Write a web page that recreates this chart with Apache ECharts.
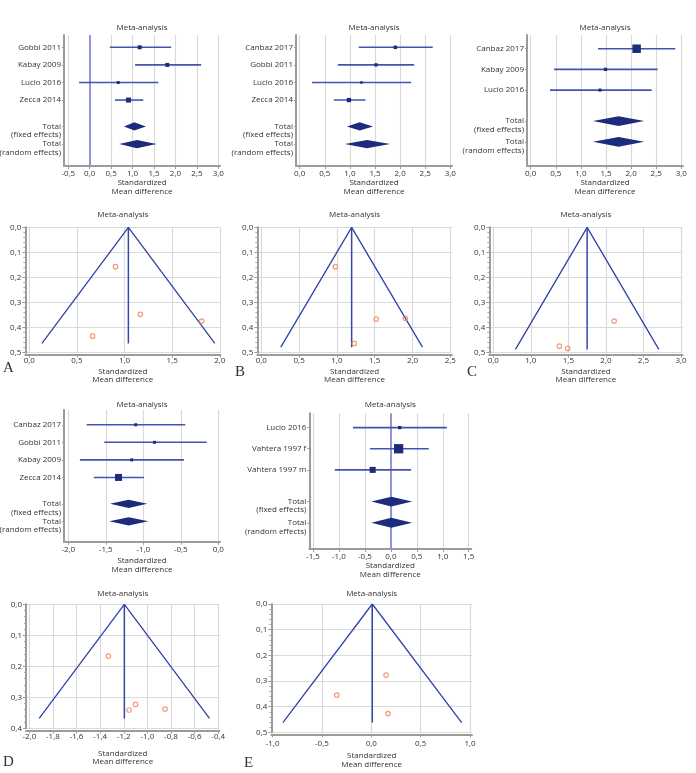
<!DOCTYPE html>
<html><head><meta charset="utf-8">
<script src="https://cdn.jsdelivr.net/npm/echarts@6/dist/echarts.min.js"></script>
<style>html,body{margin:0;padding:0;background:#fff}#c{width:696px;height:773px}</style>
</head><body><div id="c"></div>
<script>
// ================= DATA =================
// Panel A
const studiesA = ['Gobbi 2011','Kabay 2009','Lucio 2016','Zecca 2014'];
const smdA  = [1.165, 1.81, 0.665, 0.905];
const lowA  = [0.47, 1.06, -0.25, 0.59];
const highA = [1.90, 2.60, 1.60, 1.25];
const seA   = [0.347, 0.374, 0.434, 0.157];
const weightA = [4, 4, 3, 5];
const fixedA  = [0.80, 1.04, 1.31];
const randomA = [0.69, 1.10, 1.56];
const seMaxA = 0.463;
// Panel B
const studiesB = ['Canbaz 2017','Gobbi 2011','Lucio 2016','Zecca 2014'];
const smdB  = [1.905, 1.52, 1.23, 0.98];
const lowB  = [1.175, 0.76, 0.245, 0.68];
const highB = [2.65, 2.28, 2.22, 1.31];
const seB   = [0.363, 0.366, 0.463, 0.157];
const weightB = [3.5, 3.3, 2.5, 4.3];
const fixedB  = [0.94, 1.195, 1.46];
const randomB = [0.90, 1.34, 1.80];
const seMaxB = 0.478;
// Panel C
const studiesC = ['Canbaz 2017','Kabay 2009','Lucio 2016'];
const smdC  = [2.11, 1.49, 1.38];
const lowC  = [1.34, 0.465, 0.385];
const highC = [2.88, 2.53, 2.41];
const seC   = [0.374, 0.483, 0.474];
const weightC = [8.5, 3.3, 3];
const fixedC  = [1.24, 1.75, 2.26];
const randomC = [1.24, 1.75, 2.26];
const seMaxC = 0.487;
// Panel D
const studiesD = ['Canbaz 2017','Gobbi 2011','Kabay 2009','Zecca 2014'];
const smdD  = [-1.10, -0.85, -1.155, -1.33];
const lowD  = [-1.755, -1.52, -1.845, -1.66];
const highD = [-0.44, -0.155, -0.457, -0.99];
const seD   = [0.323, 0.338, 0.341, 0.167];
const weightD = [3, 3, 3, 7];
const fixedD  = [-1.444, -1.195, -0.947];
const randomD = [-1.453, -1.195, -0.933];
const seMaxD = 0.368;
// Panel E
const studiesE = ['Lucio 2016','Vahtera 1997 f','Vahtera 1997 m'];
const smdE  = [0.17, 0.15, -0.35];
const lowE  = [-0.73, -0.40, -1.08];
const highE = [1.08, 0.73, 0.39];
const seE   = [0.427, 0.277, 0.355];
const weightE = [3.3, 9.3, 6];
const fixedE  = [-0.376, 0.01, 0.41];
const randomE = [-0.376, 0.01, 0.41];
const seMaxE = 0.462;

// tick values / labels
const ticksForestA = [-0.5,0,0.5,1,1.5,2,2.5,3];
const ticksForestBC = [0,0.5,1,1.5,2,2.5,3];
const ticksForestD = [-2,-1.5,-1,-0.5,0];
const ticksForestE = [-1.5,-1,-0.5,0,0.5,1,1.5];
const ticksFunnelA = [0,0.5,1,1.5,2];
const ticksFunnelB = [0,0.5,1,1.5,2,2.5];
const ticksFunnelC = [0.5,1,1.5,2,2.5,3];
const labelsFunnelC = ['0,0','1,0','1,5','2,0','2,5','3,0'];
const ticksFunnelD = [-2,-1.8,-1.6,-1.4,-1.2,-1,-0.8,-0.6,-0.4];
const ticksFunnelE = [-1,-0.5,0,0.5,1];
const panelTitle = 'Meta-analysis';
const axisName = 'Standardized\nMean difference';
const totalLabel = 'Total';
const fixedSub = '(fixed effects)';
const randomSub = '(random effects)';

// ================= STYLE / BUILD =================
const FONT = 'Open Sans';
const TXT = '#333';
const AXIS = {show:true, onZero:false, lineStyle:{color:'#9b9b9b', width:2}};
const GRIDLINE = {show:true, lineStyle:{color:'#dadada', width:1.2}};
const CI_COLOR = '#4253b2';
const NAVY = '#1d2b7d';
const LBL = {fontSize:8, fontFamily:FONT, color:TXT, showMinLabel:true, showMaxLabel:true, hideOverlap:false};
function fmt(v){ return (Math.round(v*10)/10).toFixed(1).replace('.',','); }

const option = {animation:false, backgroundColor:'#fff', grid:[], xAxis:[], yAxis:[], series:[], graphic:[]};

function addGrid(p){
  option.grid.push({left:p.left, top:p.top, width:p.width, height:p.height, containLabel:false, outerBoundsMode:'none'});
  return option.grid.length - 1;
}
function addText(x, y, text, size, family, align){
  option.graphic.push({type:'text', x:x, y:y, silent:true,
    style:{text:text, fontSize:size, fontFamily:family||FONT, fill:TXT, textAlign:align||'center', verticalAlign:'middle', textVerticalAlign:'middle'}});
}

function addForest(p){
  const g = addGrid(p);
  const xi = option.xAxis.length, yi = option.yAxis.length;
  const n = p.studies.length;
  const rows = p.studies.map((_, k) => k + 1);
  const rF = n + 1.5, rR = n + 2.5;
  const d = 8.5 * (p.yMax - p.yMin) / p.height; // one text line in row units
  const map = {};
  rows.forEach((r, k) => map[r] = p.studies[k]);
  map[rF] = totalLabel; map[rR] = totalLabel;
  const sub = {};
  sub[rF + d] = fixedSub; sub[rR + d] = randomSub;
  const yVals = rows.concat([rF, rR]);
  const subVals = [rF + d, rR + d];
  option.xAxis.push({type:'value', gridIndex:g, min:p.xMin, max:p.xMax,
    axisLine:AXIS,
    axisTick:{show:true, length:3, customValues:p.ticks, lineStyle:{color:'#9b9b9b'}},
    axisLabel:Object.assign({customValues:p.ticks, formatter:fmt, margin:4}, LBL),
    splitLine:GRIDLINE,
    name:axisName, nameLocation:'middle', nameGap:p.nameGap,
    nameTextStyle:{fontSize:8, fontFamily:FONT, color:TXT, lineHeight:8.5}});
  option.yAxis.push({type:'value', gridIndex:g, position:'left', inverse:true, min:p.yMin, max:p.yMax,
    axisLine:AXIS,
    axisTick:{show:true, length:2, customValues:yVals, lineStyle:{color:'#9b9b9b'}},
    axisLabel:Object.assign({customValues:yVals, formatter:v => map[v] || '', margin:3}, LBL),
    splitLine:{show:false}});
  option.yAxis.push({type:'value', gridIndex:g, position:'left', inverse:true, min:p.yMin, max:p.yMax,
    axisLine:{show:false}, axisTick:{show:false}, splitLine:{show:false},
    axisLabel:Object.assign({customValues:subVals, formatter:v => {
      const k = subVals.findIndex(t => Math.abs(t - v) < 1e-6);
      return k === 0 ? fixedSub : (k === 1 ? randomSub : '');
    }, margin:3}, LBL)});
  const s = {type:'custom', xAxisIndex:xi, yAxisIndex:yi, silent:true, clip:false, z:3,
    data: rows.map((r, k) => [p.low[k], p.high[k], p.smd[k], r, p.weight[k]]),
    encode:{x:[0,1,2], y:3},
    renderItem:function(params, api){
      const a = api.coord([api.value(0), api.value(3)]);
      const b = api.coord([api.value(1), api.value(3)]);
      const c = api.coord([api.value(2), api.value(3)]);
      const sz = api.value(4);
      return {type:'group', children:[
        {type:'line', shape:{x1:a[0], y1:a[1], x2:b[0], y2:b[1]}, style:{stroke:CI_COLOR, lineWidth:1.6}},
        {type:'rect', shape:{x:c[0]-sz/2, y:c[1]-sz/2, width:sz, height:sz}, style:{fill:NAVY}}
      ]};
    }};
  if (p.zero) {
    s.markLine = {silent:true, symbol:'none', label:{show:false}, z:2,
      lineStyle:{color:'#8e96d4', width:2, type:'solid'}, data:[{xAxis:0}]};
  }
  option.series.push(s);
  option.series.push({type:'custom', xAxisIndex:xi, yAxisIndex:yi, silent:true, clip:false, z:4,
    data:[p.fixed.concat([rF]), p.random.concat([rR])],
    encode:{x:[0,1,2], y:3},
    renderItem:function(params, api){
      const r = api.value(3), h = 0.235;
      const l = api.coord([api.value(0), r]);
      const t = api.coord([api.value(1), r - h]);
      const rr = api.coord([api.value(2), r]);
      const b = api.coord([api.value(1), r + h]);
      return {type:'polygon', shape:{points:[l, t, rr, b]}, style:{fill:NAVY}};
    }});
  addText(p.left + p.width/2, p.titleY, panelTitle, 8);
}

function addFunnel(p){
  const g = addGrid(p);
  const xi = option.xAxis.length, yi = option.yAxis.length;
  const labelFor = v => {
    if (p.labels) {
      const k = p.ticks.findIndex(t => Math.abs(t - v) < 1e-6);
      return k >= 0 ? p.labels[k] : '';
    }
    return fmt(v);
  };
  option.xAxis.push({type:'value', gridIndex:g, min:p.xMin, max:p.xMax, offset:p.xOffset,
    axisLine:AXIS,
    axisTick:{show:true, length:3, customValues:p.ticks, lineStyle:{color:'#9b9b9b'}},
    axisLabel:Object.assign({customValues:p.ticks, formatter:labelFor, margin:p.labelMargin}, LBL),
    splitLine:GRIDLINE,
    name:axisName, nameLocation:'middle', nameGap:p.nameGap,
    nameTextStyle:{fontSize:8, fontFamily:FONT, color:TXT, lineHeight:8.5}});
  option.yAxis.push({type:'value', gridIndex:g, position:'left', inverse:true, min:0, max:p.yMax, interval:0.1,
    axisLine:AXIS,
    axisTick:{show:true, length:3, lineStyle:{color:'#9b9b9b'}},
    minorTick:{show:true, splitNumber:5, length:2, lineStyle:{color:'#aaa'}},
    axisLabel:Object.assign({formatter:fmt, margin:4}, LBL),
    splitLine:GRIDLINE});
  const c = p.center, s = p.seMax;
  option.series.push({type:'line', xAxisIndex:xi, yAxisIndex:yi, silent:true, symbol:'none', z:3,
    data:[[c - 1.96*s, s], [c, 0], [c + 1.96*s, s]],
    lineStyle:{color:'#2f42aa', width:1.3}});
  option.series.push({type:'line', xAxisIndex:xi, yAxisIndex:yi, silent:true, symbol:'none', z:3,
    data:[[c, 0], [c, s]],
    lineStyle:{color:'#3546ad', width:1.5}});
  option.series.push({type:'scatter', xAxisIndex:xi, yAxisIndex:yi, silent:true, z:4,
    data:p.smd.map((x, k) => [x, p.se[k]]),
    symbol:'circle', symbolSize:4.5,
    itemStyle:{color:'rgba(255,255,255,0)', borderColor:'#ee8558', borderWidth:1.2}});
  addText(p.left + p.width/2, p.titleY, panelTitle, 8);
}

// forest plots
addForest({studies:studiesA, smd:smdA, low:lowA, high:highA, weight:weightA, fixed:fixedA, random:randomA,
  left:64, top:35, width:156, height:131, xMin:-0.6, xMax:3.04, ticks:ticksForestA,
  yMin:0.3, yMax:7.75, zero:true, nameGap:12.5, titleY:28});
addForest({studies:studiesB, smd:smdB, low:lowB, high:highB, weight:weightB, fixed:fixedB, random:randomB,
  left:296, top:35, width:156, height:131, xMin:-0.074, xMax:3.034, ticks:ticksForestBC,
  yMin:0.3, yMax:7.75, zero:false, nameGap:12.5, titleY:28});
addForest({studies:studiesC, smd:smdC, low:lowC, high:highC, weight:weightC, fixed:fixedC, random:randomC,
  left:527, top:35, width:156, height:131, xMin:-0.074, xMax:3.034, ticks:ticksForestBC,
  yMin:0.337, yMax:6.67, zero:false, nameGap:12.5, titleY:28});
addForest({studies:studiesD, smd:smdD, low:lowD, high:highD, weight:weightD, fixed:fixedD, random:randomD,
  left:64, top:410, width:156, height:131.7, xMin:-2.057, xMax:0.023, ticks:ticksForestD,
  yMin:0.16, yMax:7.66, zero:false, nameGap:14.8, titleY:405});
addForest({studies:studiesE, smd:smdE, low:lowE, high:highE, weight:weightE, fixed:fixedE, random:randomE,
  left:309.3, top:413.3, width:162, height:135.7, xMin:-1.571, xMax:1.55, ticks:ticksForestE,
  yMin:0.325, yMax:6.74, zero:true, nameGap:12.75, titleY:405});

// funnel plots
addFunnel({smd:smdA, se:seA, center:fixedA[1], seMax:seMaxA, left:25.3, top:227.3, width:195, height:125.4,
  xMin:-0.042, xMax:2.005, ticks:ticksFunnelA, yMax:0.5, xOffset:2, labelMargin:2, nameGap:12.5, titleY:215});
addFunnel({smd:smdB, se:seB, center:fixedB[1], seMax:seMaxB, left:257.3, top:227.3, width:194.5, height:125.4,
  xMin:-0.053, xMax:2.52, ticks:ticksFunnelB, yMax:0.5, xOffset:2, labelMargin:2, nameGap:12.5, titleY:215});
addFunnel({smd:smdC, se:seC, center:fixedC[1], seMax:seMaxC, left:489.3, top:227.3, width:193.2, height:125.4,
  xMin:0.447, xMax:3.02, ticks:ticksFunnelC, labels:labelsFunnelC, yMax:0.5, xOffset:2, labelMargin:2, nameGap:12.5, titleY:215});
addFunnel({smd:smdD, se:seD, center:fixedD[1], seMax:seMaxD, left:26, top:604.3, width:193.4, height:124,
  xMin:-2.028, xMax:-0.39, ticks:ticksFunnelD, yMax:0.4, xOffset:2.4, labelMargin:2, nameGap:18.3, titleY:594});
addFunnel({smd:smdE, se:seE, center:fixedE[1], seMax:seMaxE, left:271.3, top:604, width:200.7, height:128.3,
  xMin:-1.013, xMax:1.02, ticks:ticksFunnelE, yMax:0.5, xOffset:2, labelMargin:5.5, nameGap:17.5, titleY:594});

// panel letters
const SERIF = 'Liberation Serif';
addText(3, 368, 'A', 15, SERIF, 'left');
addText(235, 372, 'B', 15, SERIF, 'left');
addText(467, 372, 'C', 15, SERIF, 'left');
addText(3, 762, 'D', 15, SERIF, 'left');
addText(244, 763, 'E', 15, SERIF, 'left');

const chart = echarts.init(document.getElementById('c'), null, {renderer:'canvas', width:696, height:773});
chart.setOption(option);
</script>
</body></html>
